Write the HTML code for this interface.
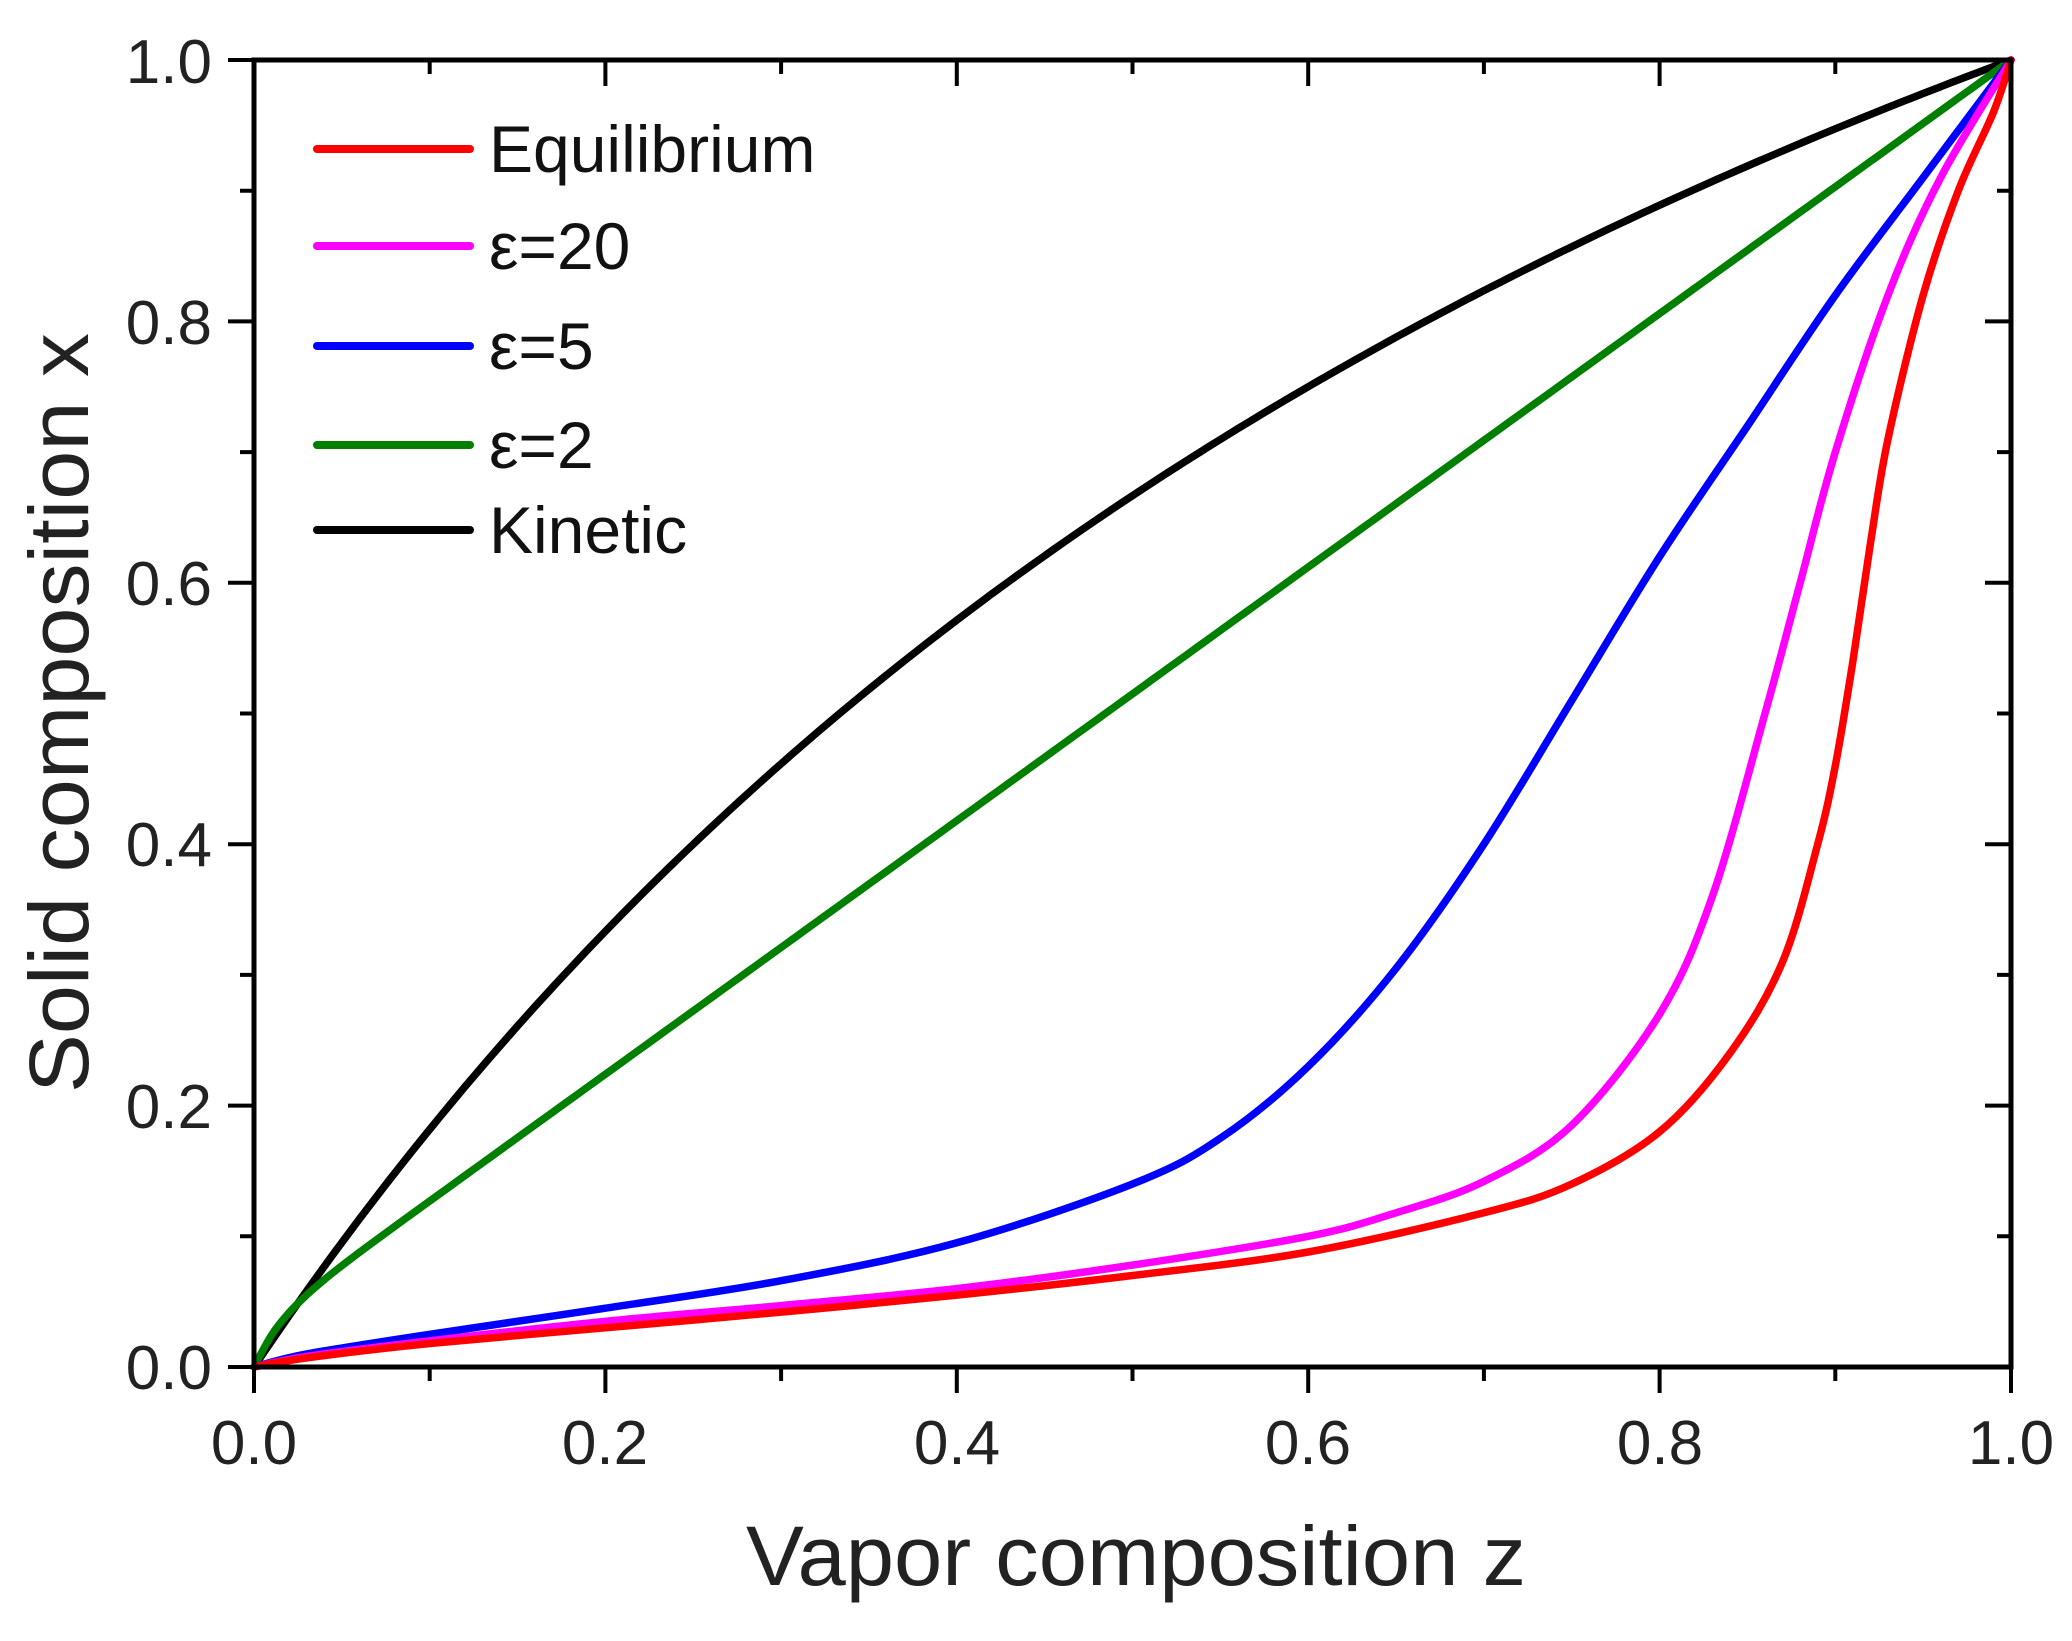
<!DOCTYPE html>
<html><head><meta charset="utf-8"><style>html,body{margin:0;padding:0;background:#fff}svg{display:block}</style></head>
<body>
<svg id="s" width="2072" height="1641" viewBox="0 0 2072 1641" xmlns="http://www.w3.org/2000/svg" font-family="Liberation Sans, Arial, sans-serif">
<rect width="2072" height="1641" fill="#fff"/>
<g id="curves" fill="none" stroke-width="7.5" stroke-linejoin="round" stroke-linecap="round"></g>
<g id="ticks" stroke="#000" stroke-width="4"></g>
<rect x="254" y="60" width="1757" height="1307" fill="none" stroke="#000" stroke-width="5"/>
<g font-size="62" fill="#222" text-anchor="end">
<text x="212" y="1389">0.0</text><text x="212" y="1128">0.2</text><text x="212" y="866">0.4</text>
<text x="212" y="605">0.6</text><text x="212" y="344">0.8</text><text x="212" y="83">1.0</text>
</g>
<g font-size="62" fill="#222" text-anchor="middle">
<text x="254" y="1464">0.0</text><text x="605" y="1464">0.2</text><text x="957" y="1464">0.4</text>
<text x="1308" y="1464">0.6</text><text x="1660" y="1464">0.8</text><text x="2011" y="1464">1.0</text>
</g>
<text x="1136" y="1585" font-size="84" fill="#222" text-anchor="middle" textLength="780" lengthAdjust="spacingAndGlyphs">Vapor composition z</text>
<text transform="translate(88,713) rotate(-90)" font-size="84" fill="#222" text-anchor="middle" textLength="760" lengthAdjust="spacingAndGlyphs">Solid composition x</text>
<g stroke-width="8" stroke-linecap="round">
<line x1="317" y1="149" x2="470" y2="149" stroke="#ff0000"/>
<line x1="317" y1="246" x2="470" y2="246" stroke="#ff00ff"/>
<line x1="317" y1="346" x2="470" y2="346" stroke="#0000ff"/>
<line x1="317" y1="445" x2="470" y2="445" stroke="#007f00"/>
<line x1="317" y1="530" x2="470" y2="530" stroke="#000"/>
</g>
<g font-size="66" fill="#111">
<text x="489" y="172">Equilibrium</text>
<text x="489" y="269">ε=20</text>
<text x="489" y="369">ε=5</text>
<text x="489" y="468">ε=2</text>
<text x="489" y="553">Kinetic</text>
</g>
</svg>
<script>
var X0=254,X1=2011,Y0=1367,Y1=60;
function px(z){return X0+z*(X1-X0)}function py(x){return Y0-x*(Y0-Y1)}
var NS="http://www.w3.org/2000/svg";
var t=document.getElementById('ticks'),d="";
for(var i=0;i<=10;i++){var v=i/10,maj=i%2==0;
 var xx=px(v),yy=py(v),L=maj?26:14;
 d+="M"+xx+" "+Y0+"v"+L+"M"+xx+" "+Y1+"v"+L+"M"+X0+" "+yy+"h"+(-L)+"M"+X1+" "+yy+"h"+(-L);}
var p=document.createElementNS(NS,'path');p.setAttribute('d',d);t.appendChild(p);
function smooth(pts){var s="M"+px(pts[0][0])+" "+py(pts[0][1]);
 for(var i=0;i<pts.length-1;i++){var p0=pts[Math.max(i-1,0)],p1=pts[i],p2=pts[i+1],p3=pts[Math.min(i+2,pts.length-1)];
  var a=[px(p0[0]),py(p0[1])],b=[px(p1[0]),py(p1[1])],c=[px(p2[0]),py(p2[1])],e=[px(p3[0]),py(p3[1])];
  var c1=[b[0]+(c[0]-a[0])/6,b[1]+(c[1]-a[1])/6],c2=[c[0]-(e[0]-b[0])/6,c[1]-(e[1]-b[1])/6];
  s+="C"+c1[0].toFixed(1)+" "+c1[1].toFixed(1)+" "+c2[0].toFixed(1)+" "+c2[1].toFixed(1)+" "+c[0].toFixed(1)+" "+c[1].toFixed(1);}
 return s;}
function fn(f){var a=[];for(var i=0;i<=100;i++){var z=i/100;a.push([z,f(z)])}return a}
var series=[
 ["#000",fn(function(z){return 2*z/(1+z)})],
 ["#007f00",fn(function(z){return z+0.03*(1-z)*(1-Math.exp(-z/0.015))})],
 ["#0000ff",[[0,0],[0.03,0.01],[0.1,0.025],[0.2,0.045],[0.3,0.066],[0.4,0.095],[0.5,0.14],[0.55,0.175],[0.6,0.23],[0.65,0.305],[0.7,0.4],[0.75,0.51],[0.8,0.62],[0.85,0.72],[0.9,0.82],[0.95,0.91],[1,1]]],
 ["#ff00ff",[[0,0],[0.03,0.008],[0.1,0.02],[0.2,0.035],[0.3,0.047],[0.4,0.06],[0.5,0.078],[0.6,0.1],[0.65,0.118],[0.7,0.142],[0.75,0.185],[0.8,0.27],[0.83,0.36],[0.86,0.5],[0.88,0.6],[0.9,0.7],[0.93,0.82],[0.96,0.91],[1,1]]],
 ["#ff0000",[[0,0],[0.03,0.007],[0.1,0.018],[0.2,0.03],[0.3,0.042],[0.4,0.055],[0.5,0.07],[0.6,0.088],[0.7,0.118],[0.75,0.14],[0.8,0.18],[0.84,0.24],[0.87,0.31],[0.89,0.4],[0.9,0.46],[0.91,0.54],[0.92,0.63],[0.93,0.71],[0.95,0.82],[0.97,0.9],[0.99,0.96],[1,1]]]
];
var g=document.getElementById('curves');
series.forEach(function(s){var p=document.createElementNS(NS,'path');p.setAttribute('d',smooth(s[1]));p.setAttribute('stroke',s[0]);g.appendChild(p)});
</script>
</body></html>
